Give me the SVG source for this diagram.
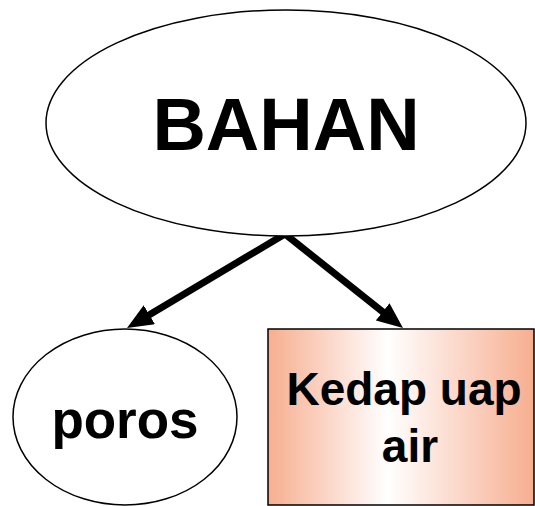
<svg xmlns="http://www.w3.org/2000/svg" width="535" height="506" viewBox="0 0 535 506">
  <style>
    .shape { stroke: #000; stroke-width: 1.5; }
    .label { font-family: "Liberation Sans", Arial, sans-serif; font-weight: bold; fill: #000; text-anchor: middle; }
    .link { stroke: #000; stroke-width: 7; fill: none; marker-end: url(#head); }
  </style>
  <defs>
    <linearGradient id="peach" x1="0" y1="0" x2="1" y2="0">
      <stop offset="0" stop-color="#F7AE90"/>
      <stop offset="0.45" stop-color="#FFFFFF"/>
      <stop offset="1" stop-color="#F7AE90"/>
    </linearGradient>
    <marker id="head" viewBox="0 0 26 22" refX="14" refY="11" markerWidth="26" markerHeight="22" orient="auto" markerUnits="userSpaceOnUse">
      <path d="M0,0 L26,11 L0,22 Z" fill="#000"/>
    </marker>
  </defs>

  <g id="connectors">
    <line class="link" x1="285" y1="234" x2="137.3" y2="321.9"/>
    <line class="link" x1="285" y1="234" x2="393.6" y2="320.5"/>
  </g>

  <g id="bahan">
    <ellipse class="shape" cx="286" cy="123" rx="240" ry="113" fill="#fff"/>
    <text class="label" x="286" y="150" font-size="74">BAHAN</text>
  </g>

  <g id="poros">
    <ellipse class="shape" cx="125" cy="417" rx="112" ry="88" fill="#fff"/>
    <text class="label" x="125" y="438" font-size="53">poros</text>
  </g>

  <g id="kedap">
    <rect class="shape" x="268" y="329" width="266" height="176" fill="url(#peach)"/>
    <text class="label" x="404" y="405" font-size="46">Kedap uap</text>
    <text class="label" x="410" y="462" font-size="46">air</text>
  </g>
</svg>
